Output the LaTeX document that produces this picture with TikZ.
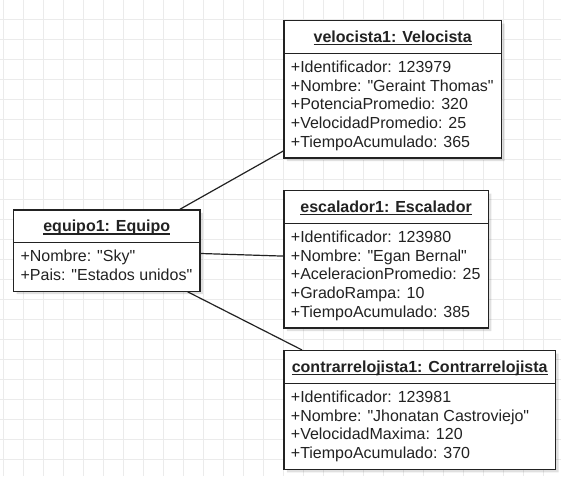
\documentclass[tikz,border=0pt]{standalone}
\usepackage{fontspec}
\setmainfont{Liberation Sans}[Ligatures=TeXOff]
\usetikzlibrary{shapes.multipart,shadows}

\newsavebox{\namebox}
\newcommand{\titlestrut}{\rule[-5.8pt]{0pt}{21.9pt}}
\newcommand{\attrstrut}{\rule[-5.3pt]{0pt}{18.7pt}}
\newcommand{\objname}[1]{\titlestrut\sbox{\namebox}{\textbf{#1}}%
  \rlap{\rule[-3pt]{\wd\namebox}{1.1pt}}\usebox{\namebox}}
\newcommand{\dq}{\symbol{34}}

\definecolor{gridline}{HTML}{EBEBEB}
\definecolor{umlline}{HTML}{222222}

\begin{document}
\begin{tikzpicture}[x=1pt,y=-1pt,
    umlobj/.style={rectangle split, rectangle split parts=2,
      rectangle split part align={center,left},
      draw=umlline, line width=1.2pt, fill=white, text=umlline,
      inner xsep=7pt, inner ysep=4.9pt, align=left,
      font=\fontsize{16}{18.7}\selectfont,
      drop shadow={shadow xshift=3pt, shadow yshift=-3pt,
        fill=black, opacity=0.12}}]
  \useasboundingbox (0,0) rectangle (561,476);

  % grid
  \foreach \gx in {3.5,23.5,...,543.5}
    \draw[gridline, line width=1pt] (\gx,0) -- (\gx,476);
  \foreach \gy in {19.5,39.5,...,459.5}
    \draw[gridline, line width=1pt] (0,\gy) -- (561,\gy);

  \begin{scope}[every node/.style={umlobj, anchor=north west}]
    \node[minimum width=217.7pt] (vel) at (283.3,20) {\objname{velocista1: Velocista}
      \nodepart{two}\attrstrut+Identificador: 123979\\
      \attrstrut+Nombre: \dq Geraint Thomas\dq\\
      \attrstrut+PotenciaPromedio: 320\\
      \attrstrut+VelocidadPromedio: 25\\
      \attrstrut+TiempoAcumulado: 365};
    \node[minimum width=204.4pt] (esc) at (283.3,190) {\objname{escalador1: Escalador}
      \nodepart{two}\attrstrut+Identificador: 123980\\
      \attrstrut+Nombre: \dq Egan Bernal\dq\\
      \attrstrut+AceleracionPromedio: 25\\
      \attrstrut+GradoRampa: 10\\
      \attrstrut+TiempoAcumulado: 385};
    \node[minimum width=271.7pt] (con) at (283.3,350) {\objname{contrarrelojista1: Contrarrelojista}
      \nodepart{two}\attrstrut+Identificador: 123981\\
      \attrstrut+Nombre: \dq Jhonatan Castroviejo\dq\\
      \attrstrut+VelocidadMaxima: 120\\
      \attrstrut+TiempoAcumulado: 370};
    \node[minimum width=186.3pt] (eq) at (13,209.3) {\objname{equipo1: Equipo}
      \nodepart{two}\attrstrut+Nombre: \dq Sky\dq\\
      \attrstrut+Pais: \dq Estados unidos\dq};
  \end{scope}

  \begin{scope}[every edge/.style={draw=umlline, line width=1.2pt}]
    \path (eq) edge (vel);
    \path (eq) edge (esc);
    \path (eq) edge (con);
  \end{scope}
\end{tikzpicture}
\end{document}
